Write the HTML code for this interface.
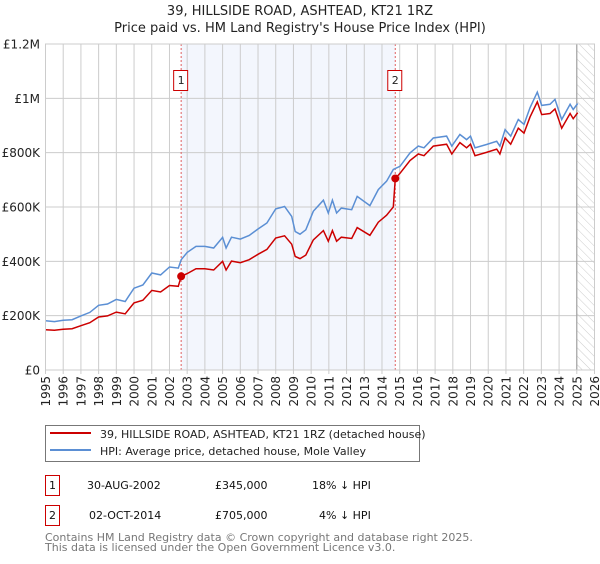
<!DOCTYPE html>
<html><head><meta charset="utf-8"><style>
body{margin:0;background:#fff;font-family:"DejaVu Sans","Liberation Sans",sans-serif;}
svg text{font-family:"DejaVu Sans","Liberation Sans",sans-serif;}
</style></head><body>
<svg id="c" width="600" height="560" xmlns="http://www.w3.org/2000/svg">
<defs><pattern id="hatch" width="6" height="6" patternUnits="userSpaceOnUse" patternTransform="rotate(-45)"><line x1="0" y1="0" x2="0" y2="6" stroke="#ccc" stroke-width="1"/></pattern></defs>
<text x="300" y="15" text-anchor="middle" font-size="13" fill="#222">39, HILLSIDE ROAD, ASHTEAD, KT21 1RZ</text>
<text x="300" y="32" text-anchor="middle" font-size="13" fill="#222">Price paid vs. HM Land Registry's House Price Index (HPI)</text>
<g id="plot"></g>
<g>
<rect x="45.5" y="425.5" width="374" height="36" fill="#fff" stroke="#777"/>
<line x1="50" y1="433" x2="91" y2="433" stroke="#cc0000" stroke-width="2"/>
<text x="100" y="438" font-size="11" fill="#222">39, HILLSIDE ROAD, ASHTEAD, KT21 1RZ (detached house)</text>
<line x1="50" y1="450" x2="91" y2="450" stroke="#5b8fd4" stroke-width="2"/>
<text x="100" y="455" font-size="11" fill="#222">HPI: Average price, detached house, Mole Valley</text>
</g>
<g font-size="11" fill="#111">
<rect x="45.5" y="475.5" width="14" height="20" fill="none" stroke="#cc0000"/>
<text x="52.5" y="489" text-anchor="middle">1</text>
<text x="87" y="489">30-AUG-2002</text>
<text x="215" y="489">£345,000</text>
<text x="312" y="489">18% ↓ HPI</text>
<rect x="45.5" y="505.5" width="14" height="20" fill="none" stroke="#cc0000"/>
<text x="52.5" y="519" text-anchor="middle">2</text>
<text x="89" y="519">02-OCT-2014</text>
<text x="215" y="519">£705,000</text>
<text x="319" y="519">4% ↓ HPI</text>
</g>
<text x="45" y="541" font-size="11" fill="#777">Contains HM Land Registry data © Crown copyright and database right 2025.</text>
<text x="45" y="551" font-size="11" fill="#777">This data is licensed under the Open Government Licence v3.0.</text>
</svg>
<script>
const hpiYears=[1995.0,1995.5,1996.0,1996.5,1997.0,1997.5,1998.0,1998.5,1999.0,1999.5,2000.0,2000.5,2001.0,2001.5,2002.0,2002.5,2002.66,2003.0,2003.5,2004.0,2004.5,2005.0,2005.2,2005.5,2006.0,2006.5,2007.0,2007.5,2008.0,2008.5,2008.9,2009.1,2009.37,2009.7,2010.12,2010.69,2010.97,2011.2,2011.44,2011.7,2012.29,2012.6,2013.32,2013.79,2014.26,2014.64,2015.02,2015.58,2016.05,2016.37,2016.9,2017.65,2017.94,2018.4,2018.78,2019.0,2019.25,2019.9,2020.48,2020.66,2020.95,2021.27,2021.7,2022.02,2022.36,2022.77,2023.02,2023.49,2023.77,2024.15,2024.62,2024.8,2025.05];
const hpiValues=[181,178,183,185,199,212,238,243,260,252,301,313,357,350,379,375,406,433,455,455,449,488,449,489,482,495,519,541,593,602,565,510,500,516,584,625,578,625,578,596,590,639,605,664,695,738,750,799,824,818,854,861,824,867,848,861,818,830,842,824,885,861,922,904,965,1023,974,978,996,922,978,959,981];
const propYears=[1995.0,1995.5,1996.0,1996.5,1997.0,1997.5,1998.0,1998.5,1999.0,1999.5,2000.0,2000.5,2001.0,2001.5,2002.0,2002.5,2002.66,2003.0,2003.5,2004.0,2004.5,2005.0,2005.2,2005.5,2006.0,2006.5,2007.0,2007.5,2008.0,2008.5,2008.9,2009.1,2009.37,2009.7,2010.12,2010.69,2010.97,2011.2,2011.44,2011.7,2012.29,2012.6,2013.32,2013.79,2014.26,2014.64,2014.75,2015.02,2015.58,2016.05,2016.37,2016.9,2017.65,2017.94,2018.4,2018.78,2019.0,2019.25,2019.9,2020.48,2020.66,2020.95,2021.27,2021.7,2022.02,2022.36,2022.77,2023.02,2023.49,2023.77,2024.15,2024.62,2024.8,2025.05];
const propValues=[148,146,150,152,163,174,195,199,213,207,247,257,293,287,311,308,345,355,373,373,368,400,368,401,395,406,426,444,486,494,463,418,410,423,479,513,474,513,474,489,484,524,496,544,570,600,705,724,771,795,789,824,831,795,837,818,831,789,801,813,795,854,831,890,872,931,987,940,944,961,890,944,925,947];
const saleYears=[2002.66,2014.75];
const saleValues=[345,705];
const saleLabels=["1","2"];
const yTicks=[0,200,400,600,800,1000,1200];
const yTickLabels=["£0","£200K","£400K","£600K","£800K","£1M","£1.2M"];
const xTickYears=[1995,1996,1997,1998,1999,2000,2001,2002,2003,2004,2005,2006,2007,2008,2009,2010,2011,2012,2013,2014,2015,2016,2017,2018,2019,2020,2021,2022,2023,2024,2025,2026];

const X0=45.5,X1=594.5,Y0=370,Y1=44;
const x=y=>X0+(y-1995)/31*(X1-X0);
const yv=v=>Y0-v/1200*(Y0-Y1);
const NS="http://www.w3.org/2000/svg";
const g=document.getElementById('plot');
function mk(tag,attrs){const e=document.createElementNS(NS,tag);for(const k in attrs)e.setAttribute(k,attrs[k]);g.appendChild(e);return e;}

let e=mk('rect',{x:x(saleYears[0]),y:Y1,width:x(saleYears[1])-x(saleYears[0]),height:Y0-Y1,fill:'#eef2fc',opacity:0.7});


e=mk('rect',{x:x(2025),y:Y1,width:X1-x(2025),height:Y0-Y1,fill:'url(#hatch)'});


xTickYears.forEach(yr=>{
  let l=mk('line',{x1:x(yr),y1:Y1,x2:x(yr),y2:Y0+4,stroke:'#ccc','stroke-width':1});
  
  
  let t=mk('text',{x:0,y:0,'font-size':12,fill:'#222','text-anchor':'end',transform:`translate(${x(yr)+4.5},${Y0+6}) rotate(-90)`});
  t.textContent=yr;
  
  
});
yTicks.forEach((v,i)=>{
  let l=mk('line',{x1:X0,y1:yv(v),x2:X1,y2:yv(v),stroke:'#ccc','stroke-width':1});
  
  
  let t=mk('text',{x:40,y:yv(v)+4.5,'font-size':12,fill:'#222','text-anchor':'end'});
  t.textContent=yTickLabels[i];
  
  
});
e=mk('line',{x1:x(2025),y1:Y1,x2:x(2025),y2:Y0,stroke:'#999','stroke-width':1});


saleYears.forEach((yr,i)=>{
  let l=mk('line',{x1:x(yr),y1:Y1,x2:x(yr),y2:Y0,stroke:'#e06060','stroke-width':1,'stroke-dasharray':'2,2'});
  
  
  let r=mk('rect',{x:x(yr)-7.5,y:70.5,width:14,height:20,fill:'#fff',stroke:'#cc0000'});
  
  
  let t=mk('text',{x:x(yr),y:84,'font-size':11,fill:'#222','text-anchor':'middle'});
  t.textContent=saleLabels[i];
  
  
});
const path=(ys,vs)=>ys.map((yr,i)=>(i?'L':'M')+x(yr).toFixed(1)+','+yv(vs[i]).toFixed(1)).join('');
e=mk('path',{d:path(hpiYears,hpiValues),fill:'none',stroke:'#5b8fd4','stroke-width':1.5});


e=mk('path',{d:path(propYears,propValues),fill:'none',stroke:'#cc0000','stroke-width':1.5});


saleYears.forEach((yr,i)=>{
  let c=mk('circle',{cx:x(yr),cy:yv(saleValues[i]),r:4,fill:'#cc0000'});
  
  
});
e=mk('rect',{x:X0,y:Y1,width:X1-X0,height:Y0-Y1,fill:'none',stroke:'#ccc'});


</script>
</body></html>
